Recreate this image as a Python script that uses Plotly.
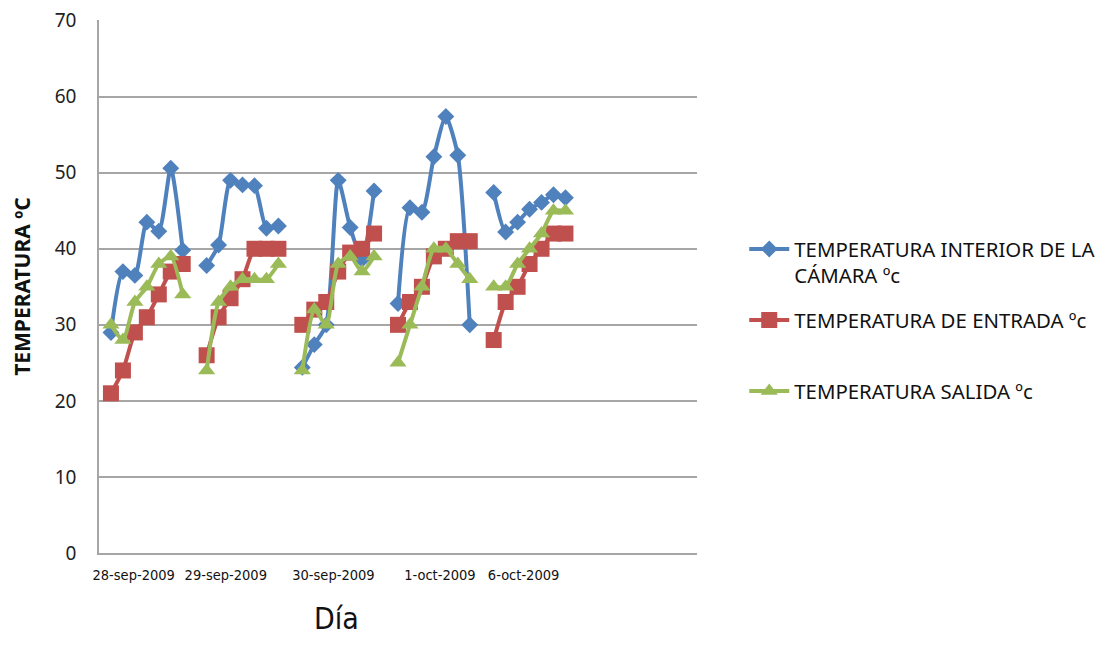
import plotly.graph_objects as go

# readings, 7 per day, None = gap between days
x_idx = list(range(1, 40))

interior = [29, 37, 36.5, 43.5, 42.3, 50.6, 39.8, None,
            37.8, 40.5, 49, 48.4, 48.3, 42.7, 43, None,
            24.4, 27.4, 30, 49, 42.8, 38.6, 47.6, None,
            32.8, 45.4, 44.8, 52.1, 57.4, 52.3, 30, None,
            47.4, 42.2, 43.5, 45.2, 46.1, 47.1, 46.7]

entrada = [21, 24, 29, 31, 34, 37, 38, None,
           26, 31, 33.5, 36, 40, 40, 40, None,
           30, 32, 33, 37, 39.5, 40, 42, None,
           30, 33, 35, 39, 40, 41, 41, None,
           28, 33, 35, 38, 40, 42, 42]

salida = [30, 28, 33, 35, 38, 39, 34, None,
          24, 33, 35, 36, 36, 36, 38, None,
          24, 32, 30, 38, 39, 37, 39, None,
          25, 30, 35, 40, 40, 38, 36, None,
          35, 35, 38, 40, 42, 45, 45]

day_labels = ['28-sep-2009', '29-sep-2009', '30-sep-2009', '1-oct-2009', '6-oct-2009']
label_pos = [2.9, 10.6, 19.6, 28.5, 35.5]

narrow = 'Liberation Sans Narrow, DejaVu Sans Condensed, Roboto Condensed, sans-serif'

series = [
    ('TEMPERATURA INTERIOR DE LA<br>CÁMARA ºc', interior, '#4F81BD', 'diamond', 13),
    ('TEMPERATURA DE ENTRADA ºc<br> ', entrada, '#C0504D', 'square', 16),
    ('TEMPERATURA SALIDA ºc', salida, '#9BBB59', 'triangle-up', 15),
]

fig = go.Figure()
for i, (name, vals, color, symbol, size) in enumerate(series):
    fig.add_trace(go.Scatter(
        x=x_idx, y=vals, name=name, mode='lines+markers',
        line=dict(color=color, width=4, shape='spline', smoothing=0.6),
        marker=dict(symbol=symbol, size=size, color=color),
        legendgroup=str(i),
    ))

# page body adds an 8px margin, so the figure is sized to fit the window
fig.update_layout(
    width=1099, height=631,
    margin=dict(l=91, r=410, t=12, b=86, autoexpand=False),
    plot_bgcolor='white', paper_bgcolor='white',
    font=dict(family='Noto Sans', color='#222'),
    showlegend=True,
    legend=dict(x=1.079, y=0.6075, xanchor='left', yanchor='top',
                font=dict(size=20.4, color='#111'), valign='top',
                tracegroupgap=15, itemwidth=40),
    annotations=[dict(text='Día', x=0.397, y=-0.122, xref='paper', yref='paper',
                      xanchor='center', yanchor='middle', showarrow=False,
                      font=dict(family=narrow, size=30, color='#111'))],
)
fig.update_xaxes(range=[0, 50], tickvals=label_pos, ticktext=day_labels,
                 showgrid=False, zeroline=False, showline=True, linecolor='#A6A6A6',
                 linewidth=1.5, ticks='', automargin=False, ticklabelstandoff=8,
                 tickfont=dict(family=narrow, size=14.5, color='#111'))
fig.update_yaxes(range=[0, 70.08], tickvals=[0, 10, 20, 30, 40, 50, 60, 70],
                 showgrid=True, gridcolor='#A6A6A6', gridwidth=1.5,
                 zeroline=False, showline=True, linecolor='#A6A6A6', linewidth=1.5,
                 ticks='', automargin=False, ticklabelstandoff=17, ticklabeloverflow='allow',
                 tickfont=dict(size=19, color='#222'),
                 title=dict(text='<b>TEMPERATURA ºC</b>', font=dict(size=21, color='#111'), standoff=18))

fig.write_html("out.html")
